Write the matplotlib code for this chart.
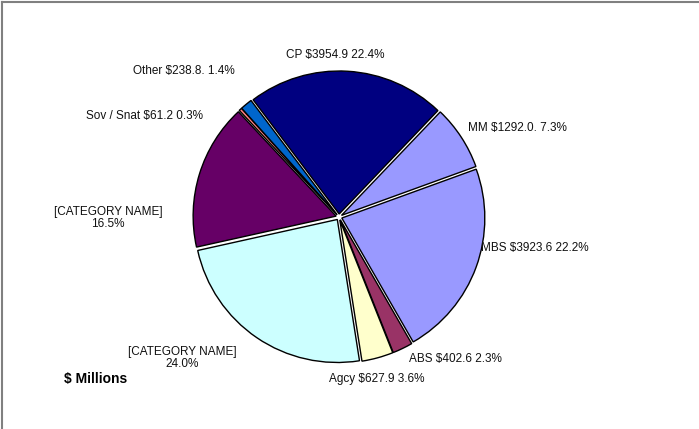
import matplotlib
matplotlib.use("Agg")
from matplotlib import pyplot as plt
from matplotlib.lines import Line2D

plt.rcParams['font.family'] = ['Liberation Sans', 'DejaVu Sans']

# slices, clockwise from the CP / Other boundary
names = ["CP", "MM", "MBS", "ABS", "Agcy", "[CATEGORY NAME]", "[CATEGORY NAME]", "Sov / Snat", "Other"]
values = [3954.9, 1292.0, 3923.6, 402.6, 627.9, 4236.0, 2912.0, 61.2, 238.8]
pcts = [22.4, 7.3, 22.2, 2.3, 3.6, 24.0, 16.5, 0.3, 1.4]
labels = ["CP $3954.9 22.4%", "MM $1292.0. 7.3%", "MBS $3923.6 22.2%", "ABS $402.6 2.3%",
          "Agcy $627.9 3.6%", "[CATEGORY NAME]\n24.0%", "[CATEGORY NAME]\n16.5%",
          "Sov / Snat $61.2 0.3%", "Other $238.8. 1.4%"]
colors = ["#000080", "#9999FF", "#9999FF", "#993366", "#FFFFCC", "#CCFFFF", "#660066", "#FF8080", "#0066CC"]

# label centres in pixels (x from left, y from top)
label_pos = [(335, 55), (517, 128), (535, 248), (455, 359), (377, 379),
             (182, 358), (108, 218), (145, 116), (184, 71)]

W, H = 699, 429
fig = plt.figure(figsize=(W / 100, H / 100), dpi=100)
ax = fig.add_axes([0, 0, 1, 1])

# axes in pixel units, so explode is an offset in pixels
ax.pie(values, colors=colors, startangle=127, counterclock=False,
       center=(339, H - 217), radius=143, explode=[3] * len(values),
       wedgeprops=dict(edgecolor="black", linewidth=1.0), frame=False)
ax.set_xlim(0, W)
ax.set_ylim(0, H)
ax.set_aspect("equal")
ax.axis("off")

for lab, (x, y) in zip(labels, label_pos):
    fig.text(x / W, 1 - y / H, lab, ha="center", va="center", fontsize=8.5,
             color="#111111", linespacing=1.1)

fig.text(96 / W, 1 - 379 / H, "$ Millions", ha="center", va="center",
         fontsize=10, fontweight="bold", color="black")

# partial chart-area border (top and left edges visible)
fig.add_artist(Line2D([2 / W, 1], [1 - 2 / H, 1 - 2 / H], transform=fig.transFigure,
                      color="#808080", linewidth=1.5))
fig.add_artist(Line2D([2 / W, 2 / W], [0, 1 - 2 / H], transform=fig.transFigure,
                      color="#808080", linewidth=1.5))

fig.savefig("out.png", dpi=100)
